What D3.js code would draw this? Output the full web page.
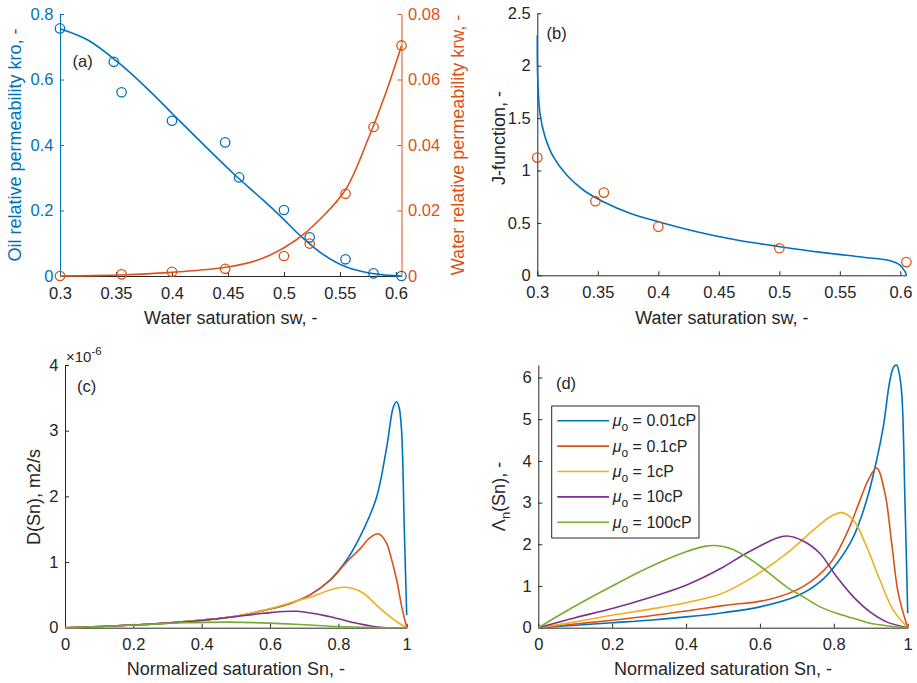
<!DOCTYPE html>
<html>
<head>
<meta charset="utf-8">
<script src="https://cdn.jsdelivr.net/npm/d3@7"></script>
<style>
body { margin: 0; background: #fff; }
svg text { font-family: "Liberation Sans", Arial, sans-serif; }
</style>
</head>
<body>
<div id="fig"></div>
<script>
// ---------- values ----------
// (a) relative permeability
var swTicks = [0.3, 0.35, 0.4, 0.45, 0.5, 0.55, 0.6];
var kroTicks = [0, 0.2, 0.4, 0.6, 0.8];
var krwTicks = [0, 0.02, 0.04, 0.06, 0.08];
var kroObsSw = [0.3, 0.348, 0.355, 0.4, 0.4475, 0.46, 0.5, 0.523, 0.555, 0.58, 0.605];
var kroObs   = [0.756, 0.654, 0.561, 0.474, 0.408, 0.301, 0.2015, 0.118, 0.051, 0.008, 0.0];
var krwObsSw = [0.3, 0.355, 0.4, 0.4475, 0.5, 0.523, 0.555, 0.58, 0.605];
var krwObs   = [0.0, 0.0005, 0.0013, 0.0022, 0.0061, 0.0099, 0.0251, 0.0455, 0.0704];
var kroFit = [[0.3, 0.755], [0.3252, 0.72], [0.352, 0.652], [0.3786, 0.57], [0.4, 0.497],
  [0.4291, 0.398], [0.4558, 0.31], [0.481, 0.233], [0.4989, 0.176], [0.5137, 0.126],
  [0.5345, 0.067], [0.5553, 0.028], [0.576, 0.009], [0.5938, 0.002], [0.605, 0]];
var krwFit = [[0.3, 0], [0.33, 0.0001], [0.36, 0.0004], [0.4, 0.0011], [0.4514, 0.0028],
  [0.481, 0.0054], [0.5108, 0.011], [0.5345, 0.0181], [0.5553, 0.0265], [0.576, 0.0425],
  [0.5909, 0.0558], [0.605, 0.0703]];

// (b) J-function
var jTicks = [0, 0.5, 1, 1.5, 2, 2.5];
var jObsSw = [0.3, 0.348, 0.355, 0.4, 0.5, 0.605];
var jObs   = [1.123, 0.707, 0.789, 0.464, 0.258, 0.126];
var jFit = [[0.3, 2.29], [0.3003, 1.9], [0.3022, 1.546], [0.3064, 1.323], [0.3132, 1.132],
  [0.3243, 0.957], [0.338, 0.814], [0.3545, 0.702], [0.3766, 0.592], [0.4, 0.511],
  [0.4317, 0.416], [0.4648, 0.337], [0.5006, 0.273], [0.5364, 0.216], [0.5694, 0.172],
  [0.5915, 0.139], [0.5997, 0.098], [0.6039, 0.034], [0.605, 0]];

// (c) diffusion coefficient D(Sn), x1e-6 m2/s
var snTicks = [0, 0.2, 0.4, 0.6, 0.8, 1];
var dTicks = [0, 1, 2, 3, 4];
var d001 = [[0, 0], [0.1, 0.015], [0.2, 0.04], [0.3, 0.07], [0.4, 0.115], [0.5, 0.175],
  [0.58, 0.26], [0.6585, 0.37], [0.717, 0.5], [0.7756, 0.726], [0.8244, 1.03], [0.8732, 1.49],
  [0.912, 1.99], [0.9415, 2.75], [0.961, 3.36], [0.9707, 3.44], [0.978, 3.35], [0.985, 3.0],
  [0.993, 1.5], [1.0, 0.19]];
var d01 = [[0, 0], [0.1, 0.015], [0.2, 0.04], [0.3, 0.07], [0.4, 0.115], [0.5, 0.175],
  [0.58, 0.26], [0.6585, 0.37], [0.717, 0.5], [0.7756, 0.72], [0.8244, 1.0], [0.8634, 1.2],
  [0.8926, 1.37], [0.9167, 1.43], [0.94, 1.3], [0.951, 1.13], [0.9707, 0.726],
  [0.9854, 0.32], [1.0, 0]];
var d1 = [[0, 0], [0.1, 0.015], [0.2, 0.04], [0.3, 0.07], [0.4, 0.115], [0.5, 0.175],
  [0.6, 0.29], [0.678, 0.41], [0.7268, 0.48], [0.7756, 0.574], [0.815, 0.615], [0.84, 0.6],
  [0.8732, 0.524], [0.922, 0.295], [0.9707, 0.091], [1.0, 0]];
var d10 = [[0, 0], [0.2, 0.04], [0.4, 0.11], [0.4829, 0.158], [0.58, 0.219], [0.678, 0.25],
  [0.7756, 0.168], [0.8537, 0.067], [0.922, 0.006], [1.0, 0]];
var d100 = [[0, 0], [0.1, 0.018], [0.2, 0.04], [0.35, 0.075], [0.4829, 0.085], [0.6, 0.07],
  [0.7, 0.045], [0.8, 0.018], [0.9, 0.004], [1.0, 0]];

// (d) Lambda_n(Sn)
var lamTicks = [0, 1, 2, 3, 4, 5, 6];
var lam001 = [[0, 0], [0.1, 0.06], [0.2, 0.12], [0.3, 0.18], [0.4, 0.26], [0.5, 0.36],
  [0.6, 0.5], [0.7, 0.76], [0.7626, 1.1], [0.808, 1.54], [0.853, 2.18], [0.889, 3.06],
  [0.916, 4.02], [0.934, 4.82], [0.952, 5.94], [0.962, 6.25], [0.97, 6.3], [0.977, 6.1],
  [0.984, 5.6], [0.9927, 3.0], [1.0, 0.345]];
var lam01 = [[0, 0], [0.1, 0.09], [0.2, 0.18], [0.3, 0.28], [0.4, 0.4], [0.5, 0.53],
  [0.627, 0.68], [0.7174, 0.99], [0.7897, 1.54], [0.835, 2.26], [0.871, 3.06], [0.893, 3.54],
  [0.916, 3.83], [0.9385, 3.22], [0.9567, 2.02], [0.9745, 0.825], [1.0, 0]];
var lam1 = [[0, 0], [0.1, 0.14], [0.2, 0.3], [0.3, 0.44], [0.4, 0.6], [0.4913, 0.8],
  [0.582, 1.22], [0.6724, 1.78], [0.7445, 2.34], [0.79, 2.66], [0.821, 2.76], [0.853, 2.58],
  [0.889, 1.94], [0.925, 1.14], [0.961, 0.42], [1.0, 0]];
var lam10 = [[0, 0], [0.1, 0.24], [0.2, 0.46], [0.3, 0.72], [0.4, 1.02], [0.5, 1.45],
  [0.55, 1.72], [0.6, 1.96], [0.64, 2.13], [0.672, 2.2], [0.717, 2.08], [0.7626, 1.78],
  [0.8077, 1.22], [0.853, 0.74], [0.898, 0.38], [0.943, 0.14], [1.0, 0]];
var lam100 = [[0, 0], [0.1, 0.52], [0.2, 1.0], [0.3, 1.45], [0.4, 1.82], [0.45, 1.95],
  [0.48, 1.97], [0.52, 1.9], [0.56, 1.72], [0.6, 1.48], [0.672, 0.98], [0.717, 0.74],
  [0.7626, 0.5], [0.8077, 0.345], [0.853, 0.225], [0.898, 0.105], [0.943, 0.048], [1.0, 0]];

var viscLabels = ['0.01cP', '0.1cP', '1cP', '10cP', '100cP'];
var colors = ['#0072BD', '#D95319', '#EDB120', '#7E2F8E', '#77AC30'];
var ink = '#262626';

// ---------- figure ----------
var svg = d3.select('#fig').append('svg').attr('width', 917).attr('height', 683);

var boxA = {l: 60, r: 401.5, t: 14, b: 276};
var boxB = {l: 537.3, r: 906.4, t: 13.3, b: 275.3};
var boxC = {l: 65, r: 406.7, t: 365, b: 627.7};
var boxD = {l: 538.3, r: 907.7, t: 365, b: 627.7};

var fmt = d => String(d);

// draws one MATLAB-like axis (ticks inside, no box)
const addAxis = (gen, tx, ty, ticks, color) => {
    var g = svg.append('g')
    .attr('transform', 'translate(' + tx + ',' + ty + ')')
    .call(gen.tickValues(ticks).tickFormat(fmt).tickSizeInner(-4).tickSizeOuter(0));
    g.attr('font-size', 16.5).attr('font-family', null);
    g.select('.domain').attr('stroke', color).attr('stroke-width', 1);
    g.selectAll('.tick line').attr('stroke', color);
    g.selectAll('.tick text').attr('fill', color);
    return g;
}

const addLine = (data, x, y, color) => {
    var line = d3.line().x(d => x(d[0])).y(d => y(d[1])).curve(d3.curveCatmullRom.alpha(0.5));
    svg.append('path').datum(data)
    .attr('d', line)
    .attr('fill', 'none')
    .attr('stroke', color)
    .attr('stroke-width', 1.6);
}

const addCircles = (xs, ys, x, y, color) => {
    svg.append('g').selectAll('circle').data(xs).enter().append('circle')
    .attr('cx', d => x(d))
    .attr('cy', (d, i) => y(ys[i]))
    .attr('r', 4.7)
    .attr('fill', 'none')
    .attr('stroke', color)
    .attr('stroke-width', 1.3);
}

const addText = (str, x, y, opts) => {
    opts = opts || {};
    return svg.append('text')
    .attr('transform', 'translate(' + x + ',' + y + ')' + (opts.rot ? ' rotate(-90)' : ''))
    .attr('text-anchor', opts.anchor || 'middle')
    .attr('dy', opts.dy || '0.35em')
    .attr('font-size', opts.size || 18)
    .attr('fill', opts.color || ink)
    .text(str);
}

// ----- (a) -----
var xA = d3.scaleLinear().domain([0.3, 0.605]).range([boxA.l, boxA.r]);
var yA = d3.scaleLinear().domain([0, 0.8]).range([boxA.b, boxA.t]);
var yA2 = d3.scaleLinear().domain([0, 0.08]).range([boxA.b, boxA.t]);

addAxis(d3.axisBottom(xA).tickPadding(11), 0, boxA.b, swTicks, ink);
addAxis(d3.axisLeft(yA).tickPadding(6.5), boxA.l, 0, kroTicks, colors[0]);
addAxis(d3.axisRight(yA2).tickPadding(6.5), boxA.r, 0, krwTicks, colors[1]);
addLine(kroFit, xA, yA, colors[0]);
addCircles(kroObsSw, kroObs, xA, yA, colors[0]);
addLine(krwFit, xA, yA2, colors[1]);
addCircles(krwObsSw, krwObs, xA, yA2, colors[1]);
addText('(a)', 82.7, 61.7, {size: 16.5});
addText('Water saturation sw, -', (boxA.l + boxA.r) / 2, 318);
addText('Oil relative permeability kro, -', 14.5, 145, {rot: true, color: colors[0]});
addText('Water relative permeability krw, -', 458, 145, {rot: true, color: colors[1]});

// ----- (b) -----
var xB = d3.scaleLinear().domain([0.3, 0.605]).range([boxB.l, boxB.r]);
var yB = d3.scaleLinear().domain([0, 2.5]).range([boxB.b, boxB.t]);

addAxis(d3.axisBottom(xB).tickPadding(11), 0, boxB.b, swTicks, ink);
addAxis(d3.axisLeft(yB).tickPadding(6.5), boxB.l, 0, jTicks, ink);
addLine(jFit, xB, yB, colors[0]);
addCircles(jObsSw, jObs, xB, yB, colors[1]);
addText('(b)', 556.7, 33.3, {size: 16.5});
addText('Water saturation sw, -', (boxB.l + boxB.r) / 2, 318);
addText('J-function, -', 499, 138, {rot: true});

// ----- (c) -----
var xC = d3.scaleLinear().domain([0, 1]).range([boxC.l, boxC.r]);
var yC = d3.scaleLinear().domain([0, 4]).range([boxC.b, boxC.t]);

addAxis(d3.axisBottom(xC).tickPadding(11), 0, boxC.b, snTicks, ink);
addAxis(d3.axisLeft(yC).tickPadding(6.5), boxC.l, 0, dTicks, ink);
[d001, d01, d1, d10, d100].forEach((s, i) => addLine(s, xC, yC, colors[i]));
addText('(c)', 86.7, 386.7, {size: 16.5});
addText('Normalized saturation Sn, -', (boxC.l + boxC.r) / 2, 669);
addText('D(Sn), m2/s', 33.3, 497, {rot: true});

var expo = svg.append('text').attr('x', 66).attr('y', 362).attr('fill', ink).attr('font-size', 15);
expo.append('tspan').text('\u00d710');
expo.append('tspan').attr('dy', -7).attr('font-size', 11.5).text('-6');

// ----- (d) -----
var xD = d3.scaleLinear().domain([0, 1]).range([boxD.l, boxD.r]);
var yD = d3.scaleLinear().domain([0, 6.3]).range([boxD.b, boxD.t]);

addAxis(d3.axisBottom(xD).tickPadding(11), 0, boxD.b, snTicks, ink);
addAxis(d3.axisLeft(yD).tickPadding(6.5), boxD.l, 0, lamTicks, ink);
[lam001, lam01, lam1, lam10, lam100].forEach((s, i) => addLine(s, xD, yD, colors[i]));
addText('(d)', 566, 383.3, {size: 16.5});
addText('Normalized saturation Sn, -', (boxD.l + boxD.r) / 2, 669);

var lamLab = addText('', 498.3, 496.5, {rot: true});
lamLab.append('tspan').text('\u039b');
lamLab.append('tspan').attr('dy', 5).attr('font-size', 13).text('n');
lamLab.append('tspan').attr('dy', -5).text('(Sn), -');

// legend
var leg = svg.append('g').attr('transform', 'translate(551.7,406)');
leg.append('rect').attr('width', 147.3).attr('height', 132)
.attr('fill', '#fff').attr('stroke', ink).attr('stroke-width', 1);
viscLabels.forEach((lab, i) => {
    var yy = 14.7 + i * 25.4;
    leg.append('line').attr('x1', 5.6).attr('x2', 57.3).attr('y1', yy).attr('y2', yy)
    .attr('stroke', colors[i]).attr('stroke-width', 1.6);
    var t = leg.append('text').attr('x', 61).attr('y', yy + 5.5).attr('fill', ink).attr('font-size', 16);
    t.append('tspan').attr('font-style', 'italic').text('\u03bc');
    t.append('tspan').attr('dy', 5).attr('font-size', 12).text('o');
    t.append('tspan').attr('dy', -5).text(' = ' + lab);
});
</script>
</body>
</html>
